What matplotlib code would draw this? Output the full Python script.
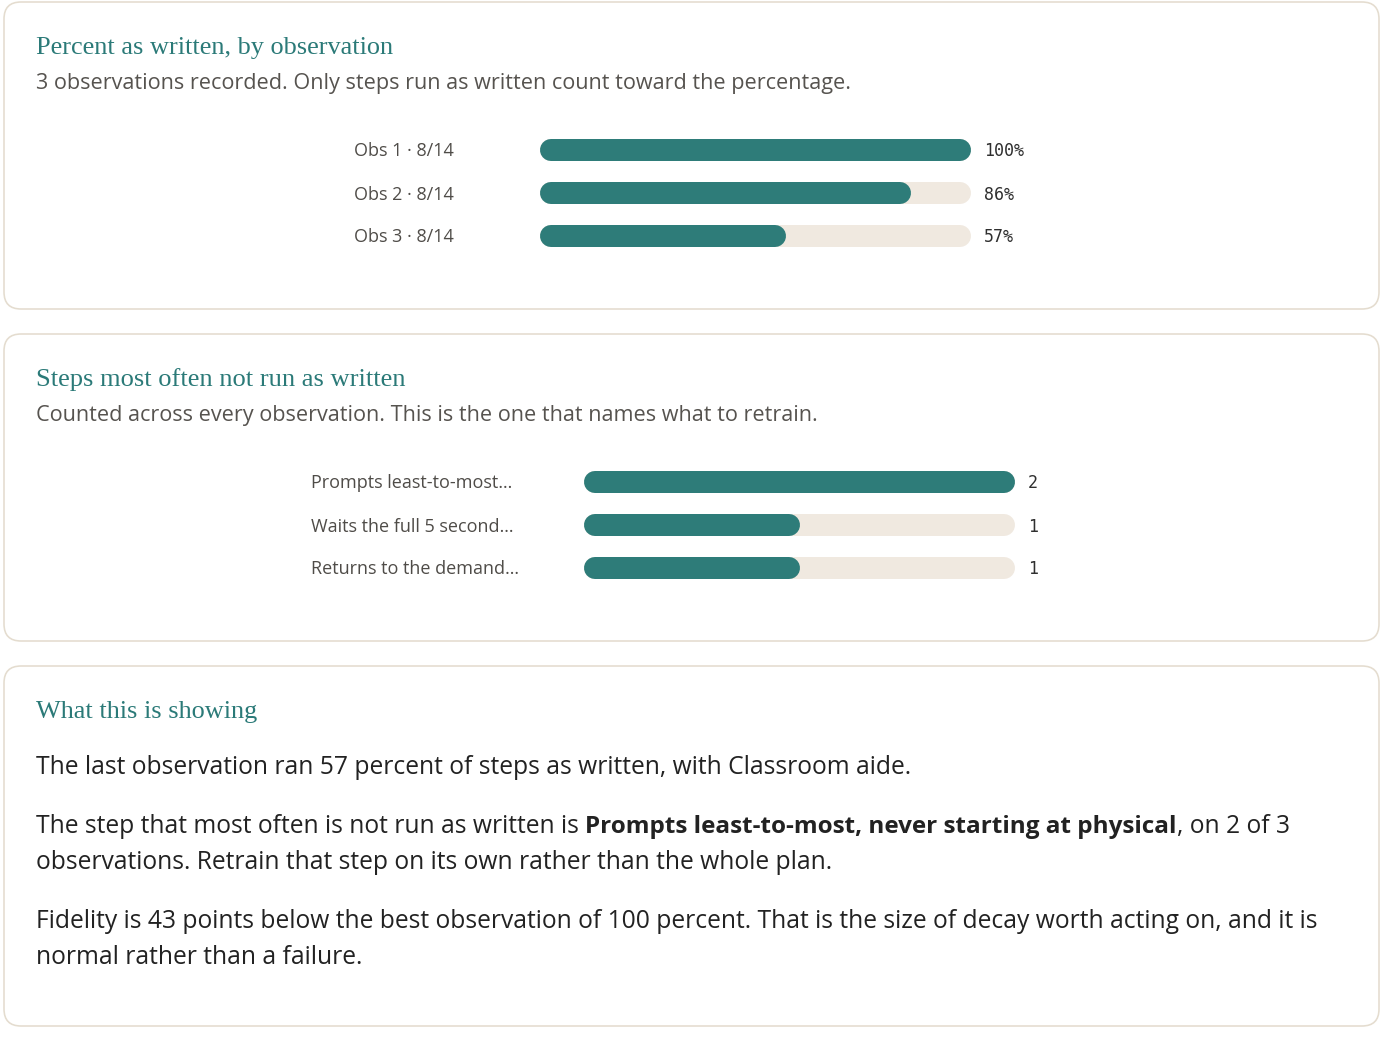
import matplotlib
matplotlib.use("Agg")
import matplotlib.pyplot as plt
from matplotlib.patches import FancyBboxPatch
from matplotlib.transforms import offset_copy

W, H, DPI = 1400, 1048, 100

# ---------------- data ----------------
obs_labels = ["Obs 1 · 8/14", "Obs 2 · 8/14", "Obs 3 · 8/14"]
obs_percent = [100, 86, 57]
percent_max = 100

step_labels = ["Prompts least-to-most…", "Waits the full 5 second…", "Returns to the demand…"]
step_counts = [2, 1, 1]
count_max = 2

titles = ["Percent as written, by observation",
          "Steps most often not run as written",
          "What this is showing"]
subtitles = ["3 observations recorded. Only steps run as written count toward the percentage.",
             "Counted across every observation. This is the one that names what to retrain."]
para1 = "The last observation ran 57 percent of steps as written, with Classroom aide."
para2_pre = "The step that most often is not run as written is "
para2_bold = "Prompts least-to-most, never starting at physical"
para2_post = ", on 2 of 3"
para2_cont = "observations. Retrain that step on its own rather than the whole plan."
para3_l1 = ("Fidelity is 43 points below the best observation of 100 percent. "
            "That is the size of decay worth acting on, and it is")
para3_l2 = "normal rather than a failure."

# ---------------- style ----------------
TEAL = "#2e7c79"
TRACK = "#f0e9e0"
TITLE_C = "#2b7a78"
SUB_C = "#56534f"
LABEL_C = "#4f4c48"
BODY_C = "#222222"
VAL_C = "#2f2f2f"
BORDER = "#e4dccf"
SANS = ["Open Sans", "DejaVu Sans"]
SERIF = ["Liberation Serif", "DejaVu Serif"]
MONO = ["DejaVu Sans Mono"]

fig = plt.figure(figsize=(W / DPI, H / DPI), dpi=DPI)
fig.patch.set_facecolor("white")
renderer = fig.canvas.get_renderer()

bg = fig.add_axes([0, 0, 1, 1])
bg.set_xlim(0, W)
bg.set_ylim(H, 0)
bg.axis("off")

# panels
for top, bot in [(2, 309), (334, 641), (666, 1026)]:
    bg.add_patch(FancyBboxPatch((4, top), 1375, bot - top,
                                boxstyle="round,pad=0,rounding_size=17",
                                fc="white", ec=BORDER, lw=1.6 * 72 / DPI))


def width_of(t):
    return t.get_window_extent(renderer).width


def fit_size(s, target, family, weight="normal", base=20):
    t = bg.text(0, 0, s, fontsize=base, family=family, weight=weight)
    w = width_of(t)
    t.remove()
    return base * target / w


def fitted(x, y, s, target, family, color, weight="normal"):
    fs = fit_size(s, target, family, weight)
    return bg.text(x, y, s, fontsize=fs, family=family, color=color,
                   weight=weight, va="baseline", ha="left")


# titles and subtitles
fitted(36, 54, titles[0], 356, SERIF, TITLE_C)
fitted(36, 89, subtitles[0], 809, SANS, SUB_C)
fitted(36, 386, titles[1], 369, SERIF, TITLE_C)
fitted(36, 421, subtitles[1], 776, SANS, SUB_C)
fitted(36, 718, titles[2], 221, SERIF, TITLE_C)

# paragraph
pfs = fit_size(para1, 872, SANS)
bfs = fit_size(para2_bold, 591, SANS, weight="bold")
kw = dict(fontsize=pfs, family=SANS, color=BODY_C, va="baseline", ha="left")
bg.text(36, 774, para1, **kw)
t1 = bg.text(36, 833, para2_pre, **kw)
x = 36 + width_of(t1)
t2 = bg.text(x, 833, para2_bold, **{**kw, "weight": "bold", "fontsize": bfs})
x += width_of(t2)
bg.text(x, 833, para2_post, **kw)
bg.text(36, 869, para2_cont, **kw)
bg.text(36, 928, para3_l1, **kw)
bg.text(36, 964, para3_l2, **kw)

# bar panels
label_fs = fit_size(step_labels[2], 208, SANS)
ROW = 43
BAR_PX = 22


def bar_panel(top_px, left_px, width_px, label_x, labels, values, vmax, fmt):
    n = len(values)
    ax = fig.add_axes([left_px / W, 1 - (top_px + n * ROW) / H, width_px / W, n * ROW / H])
    ax.set_xlim(0, vmax)
    ax.set_ylim(n - 0.5, -0.5)
    ax.set_frame_on(False)
    ax.set_xticks([])
    ax.set_yticks(range(n), labels)
    ax.tick_params(axis="y", length=0, pad=(left_px - label_x) * 72 / DPI,
                   labelsize=label_fs, labelcolor=LABEL_C)
    for lb in ax.get_yticklabels():
        lb.set_ha("left")
        lb.set_family(SANS)
    lw = BAR_PX * 72 / DPI
    r = (BAR_PX / 2) / (width_px / vmax)
    val_tr = offset_copy(ax.transData, fig=fig, x=13, y=0, units="dots")
    for i, v in enumerate(values):
        ax.plot([r, vmax - r], [i, i], color=TRACK, lw=lw, solid_capstyle="round")
        ax.plot([r, max(v - r, r)], [i, i], color=TEAL, lw=lw, solid_capstyle="round")
        ax.text(vmax, i, fmt(v), transform=val_tr, ha="left", va="center_baseline",
                family=MONO, fontsize=12, color=VAL_C)
    return ax


bar_panel(128, 540, 431, 354, obs_labels, obs_percent, percent_max, lambda v: f"{v}%")
bar_panel(460, 584, 431, 311, step_labels, step_counts, count_max, lambda v: f"{v}")

fig.savefig("out.png", dpi=DPI, facecolor="white")
